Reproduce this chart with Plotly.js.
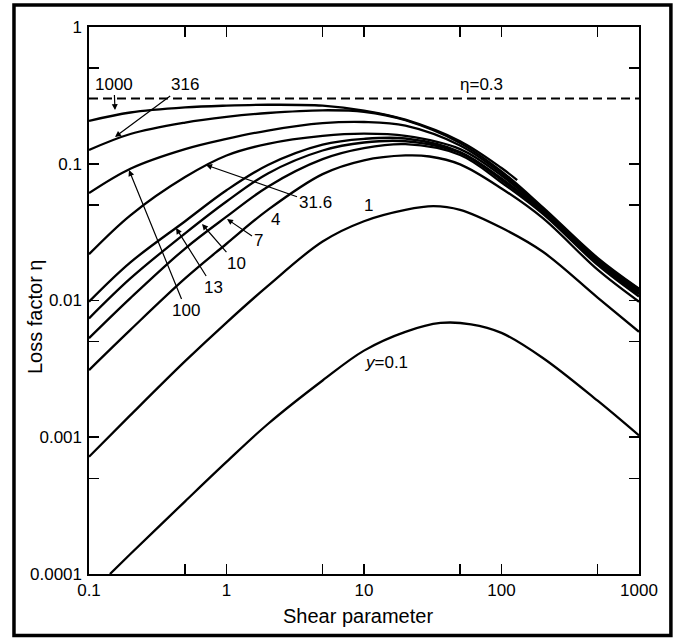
<!DOCTYPE html>
<html>
<head>
<meta charset="utf-8">
<script src="https://cdn.plot.ly/plotly-3.0.1.min.js"></script>
<style>html,body{margin:0;padding:0;background:#fff;}#chart{width:680px;height:638px;}</style>
</head>
<body>
<div id="chart"></div>
<script>
// Shear parameter grid (x) and loss factor values (y)
const shear = [0.1, 0.2, 0.5, 1, 2, 5, 10, 20, 50, 100, 200, 500, 1000];

const shear1000 = [0.1, 0.2, 0.5, 1, 2, 5, 10, 20, 50, 100, 130];
const eta1000 = [0.206, 0.237, 0.258, 0.266, 0.27, 0.266, 0.245, 0.21, 0.146, 0.093, 0.076];

const eta316 = [0.126, 0.165, 0.2, 0.22, 0.235, 0.246, 0.24, 0.208, 0.142, 0.088, 0.048, 0.0205, 0.0122];
const eta100 = [0.061, 0.092, 0.128, 0.152, 0.175, 0.198, 0.202, 0.19, 0.136, 0.085, 0.047, 0.02, 0.0121];
const eta31_6 = [0.0218, 0.042, 0.08, 0.115, 0.14, 0.16, 0.166, 0.16, 0.128, 0.082, 0.046, 0.0195, 0.0118];
const eta13 = [0.0098, 0.019, 0.038, 0.064, 0.098, 0.138, 0.152, 0.153, 0.122, 0.078, 0.045, 0.019, 0.0114];
const eta10 = [0.0074, 0.0145, 0.031, 0.053, 0.085, 0.125, 0.143, 0.146, 0.12, 0.076, 0.044, 0.0187, 0.0111];
const eta7 = [0.0053, 0.0104, 0.024, 0.041, 0.068, 0.108, 0.13, 0.139, 0.116, 0.073, 0.043, 0.0182, 0.0107];

const shear4 = [0.1, 0.2, 0.5, 1, 2, 5, 10, 20, 30, 50, 100, 200, 500, 1000];
const eta4 = [0.0031, 0.0061, 0.0145, 0.026, 0.046, 0.084, 0.106, 0.115, 0.113, 0.099, 0.066, 0.04, 0.0168, 0.0098];

const shear1 = [0.1, 0.2, 0.5, 1, 2, 5, 10, 20, 32, 50, 100, 200, 500, 1000];
const eta1 = [0.00072, 0.00145, 0.0036, 0.0069, 0.0128, 0.027, 0.038, 0.046, 0.049, 0.046, 0.034, 0.0227, 0.0105, 0.0059];

const shear01 = [0.142, 0.2, 0.5, 1, 2, 5, 10, 20, 36, 60, 100, 200, 500, 1000];
const eta01 = [0.0001, 0.00014, 0.00034, 0.00066, 0.00125, 0.0026, 0.0043, 0.0059, 0.00685, 0.0067, 0.0058, 0.0038, 0.00185, 0.00103];

const coreLossX = [0.1, 1000];
const coreLossY = [0.3, 0.3];

const xTickVals = [0.1, 0.5, 1, 5, 10, 50, 100, 500, 1000];
const xTickText = ['0.1', '', '1', '', '10', '', '100', '', '1000'];
const yTickVals = [0.0001, 0.0005, 0.001, 0.005, 0.01, 0.05, 0.1, 0.5, 1];
const yTickText = ['0.0001', '', '0.001', '', '0.01', '', '0.1', '', '1'];

const FONT = 'Liberation Sans, Arial, Helvetica, sans-serif';
const lineStyle = {color: '#000', width: 2.3, shape: 'spline', smoothing: 1};

function curve(x, y) {
  return {x: x, y: y, type: 'scatter', mode: 'lines', line: lineStyle, hoverinfo: 'skip', showlegend: false};
}

const traces = [
  curve(shear1000, eta1000),
  curve(shear, eta316),
  curve(shear, eta100),
  curve(shear, eta31_6),
  curve(shear, eta13),
  curve(shear, eta10),
  curve(shear, eta7),
  curve(shear4, eta4),
  curve(shear1, eta1),
  curve(shear01, eta01),
  {x: coreLossX, y: coreLossY, type: 'scatter', mode: 'lines',
   line: {color: '#000', width: 2, dash: '9px,5px'}, hoverinfo: 'skip', showlegend: false}
];

const txt = {family: FONT, size: 17, color: '#000'};
function label(text, x, y) {
  return {text: text, x: x, y: y, xref: 'x', yref: 'y', showarrow: false, font: txt,
          xanchor: 'center', yanchor: 'middle'};
}
function arrowLabel(text, x, y, ax, ay) {
  return {text: text, x: x, y: y, xref: 'x', yref: 'y', ax: ax, ay: ay,
          showarrow: true, arrowhead: 2, arrowsize: 1, arrowwidth: 1.2,
          arrowcolor: '#000', standoff: 0, font: txt};
}

const annotations = [
  arrowLabel('1000', -0.811, -0.607, -1, -26),
  arrowLabel('316', -0.811, -0.804, 70, -52),
  label('\u03b7=0.3', 1.851, -0.417),
  arrowLabel('31.6', -0.149, -1.009, 109, 38),
  label('4', 0.353, -1.411),
  arrowLabel('7', 0.0036, -1.404, 31, 21),
  arrowLabel('10', -0.178, -1.441, 34, 39),
  arrowLabel('13', -0.367, -1.470, 37, 59),
  arrowLabel('100', -0.709, -1.046, 57, 140),
  label('1', 1.036, -1.302),
  label('<i>y</i>=0.1', 1.16, -2.45),
  {text: 'Shear parameter', xref: 'paper', yref: 'paper', x: 0.489, y: -0.077,
   xanchor: 'center', yanchor: 'middle',
   showarrow: false, font: {family: FONT, size: 20, color: '#000'}},
  {text: 'Loss factor \u03b7', xref: 'paper', yref: 'paper', x: -0.098, y: 0.47,
   xanchor: 'center', yanchor: 'middle',
   textangle: -90, showarrow: false, font: {family: FONT, size: 20, color: '#000'}}
];

const axisCommon = {
  type: 'log', showgrid: false, zeroline: false,
  showline: true, linecolor: '#000', linewidth: 1.6, mirror: 'ticks',
  ticks: 'inside', ticklen: 10, tickwidth: 1.6, tickcolor: '#000',
  tickmode: 'array', tickfont: {family: FONT, size: 17, color: '#000'}
};

const layout = {
  width: 680, height: 638,
  margin: {l: 89, r: 41, t: 27, b: 64},
  paper_bgcolor: '#fff', plot_bgcolor: '#fff',
  font: {family: FONT, color: '#000'},
  xaxis: Object.assign({}, axisCommon, {range: [-1, 3], tickvals: xTickVals, ticktext: xTickText, ticklabelstandoff: 0}),
  yaxis: Object.assign({}, axisCommon, {range: [-4, 0], tickvals: yTickVals, ticktext: yTickText, ticklabelstandoff: 2}),
  annotations: annotations,
  shapes: [
    {type: 'rect', xref: 'paper', yref: 'paper', x0: -0.1364, x1: 1.058, y0: -0.1125, y1: 1.0402,
     line: {color: '#000', width: 3.5}, fillcolor: 'rgba(0,0,0,0)', layer: 'above'}
  ],
  showlegend: false
};

Plotly.newPlot('chart', traces, layout, {displayModeBar: false, staticPlot: true});
</script>
</body>
</html>
